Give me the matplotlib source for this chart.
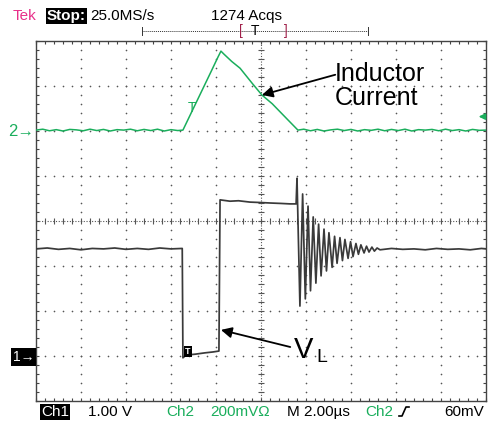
import numpy as np
import matplotlib.pyplot as plt
from matplotlib.lines import Line2D

W, H = 489, 421

# Ch1 trace (V_L) in volts, time in us
ch1_t = [0.0, 0.5, 1.0, 1.5, 2.0, 2.5, 3.0, 3.5, 4.0, 4.5, 5.0, 5.5, 6.0, 6.5,
         6.53, 6.67, 7.07, 7.51, 7.87, 8.13,
         8.18, 8.62, 9.0, 9.51, 10.0, 10.4, 10.9, 11.29, 11.56,
         11.60, 11.73, 11.85, 11.97, 12.09, 12.20, 12.32, 12.44, 12.56, 12.67,
         12.80, 12.91, 13.02, 13.16, 13.27, 13.38, 13.51, 13.62, 13.73, 13.87,
         13.98, 14.09, 14.22, 14.33, 14.44, 14.58, 14.69, 14.80, 14.93, 15.04,
         15.16, 15.29, 15.8, 16.3, 16.8, 17.3, 17.8, 18.3, 18.8, 19.3, 19.8, 20.0]
ch1_v = [2.38, 2.40, 2.37, 2.39, 2.36, 2.39, 2.38, 2.40, 2.37, 2.39, 2.37, 2.40, 2.38, 2.39,
         -0.04, 0.02, 0.04, 0.07, 0.09, 0.11,
         3.47, 3.44, 3.45, 3.42, 3.41, 3.40, 3.39, 3.38, 3.38,
         3.95, 1.11, 3.60, 1.27, 3.33, 1.45, 3.09, 1.62, 2.93, 1.78,
         2.82, 1.89, 2.74, 1.97, 2.66, 2.06, 2.63, 2.12, 2.59, 2.17,
         2.54, 2.21, 2.50, 2.26, 2.47, 2.29, 2.44, 2.31, 2.42, 2.33,
         2.40, 2.36, 2.39, 2.37, 2.38, 2.36, 2.39, 2.37, 2.38, 2.36, 2.39, 2.38]

# Ch2 trace (inductor current) in mV, time in us
ch2_t = [0.0, 0.3, 0.6, 0.9, 1.2, 1.5, 1.8, 2.1, 2.4, 2.7, 3.0, 3.3, 3.6, 3.9, 4.2,
         4.5, 4.8, 5.1, 5.4, 5.7, 6.0, 6.3,
         6.53, 7.3, 7.8, 8.09, 8.22, 8.36, 8.7, 9.07, 9.6, 10.04, 10.5, 10.84, 11.2, 11.64,
         11.9, 12.2, 12.5, 12.8, 13.1, 13.4, 13.7, 14.0, 14.3, 14.6, 14.9, 15.2, 15.5,
         15.8, 16.1, 16.4, 16.7, 17.0, 17.3, 17.6, 17.9, 18.2, 18.5, 18.8, 19.1, 19.4,
         19.7, 20.0]
ch2_mv = [0, 4, -3, 2, -4, 3, 1, -3, 4, -2, 3, -4, 2, 0, 4, -3, 3, -2, 4, -4, 2, -2,
          0, 160, 264, 325, 351, 337, 305, 275, 209, 156, 117, 82, 45, 0,
          4, -3, 3, -4, 1, 4, -2, 3, -4, 2, -1, 4, -3, 3, -2, 4, -4, 2, 0, 3, -3, 4,
          -2, 2, -4, 3, -1, 0]

ch1_scale, ch1_ground = 1.00, -3.0     # V/div, divisions from centre
ch2_scale, ch2_ground = 200.0, 2.02    # mV/div, divisions from centre
trig_level_mv = 60

header_left = ['Tek', 'Stop:', '25.0MS/s']
header_acqs = '1274 Acqs'
footer_labels = ['Ch1', '1.00 V', 'Ch2', '200mV\u03a9', 'M 2.00\u00b5s', 'Ch2', '60mV']

GREEN = '#1aae5c'
TRACE = '#3a3a3a'
GRID = '#555555'

plt.rcParams['font.family'] = ['Liberation Sans', 'DejaVu Sans']


def fx(px):
    return px / W


def fy(py):
    return 1 - py / H


fig = plt.figure(figsize=(W / 100, H / 100), dpi=100)
ax = fig.add_axes([fx(36), fy(401), 450 / W, 360 / H])
ax.set_xlim(0, 20)
ax.set_ylim(-4, 4)

# graticule
for xd in np.arange(2, 20, 2):
    if xd == 10:
        continue
    yy = np.arange(-4, 4.01, 0.2)
    ax.plot(np.full_like(yy, xd), yy, ls='none', marker='o', ms=1.2, mew=0, color=GRID)
for yd in range(-3, 4):
    if yd == 0:
        continue
    xx = np.arange(0, 20.01, 0.4)
    ax.plot(xx, np.full_like(xx, yd), ls='none', marker='o', ms=1.2, mew=0, color=GRID)
ax.axhline(0, ls=(0, (1, 1.5)), lw=0.8, color=GRID)
ax.axvline(10, ls=(0, (1, 1.5)), lw=0.8, color=GRID)
xx = np.arange(0, 20.01, 0.4)
ax.plot(xx, np.zeros_like(xx), ls='none', marker='|', ms=4, mew=0.8, color=GRID)
yy = np.arange(-4, 4.01, 0.2)
ax.plot(np.full_like(yy, 10), yy, ls='none', marker='_', ms=4, mew=0.8, color=GRID)

ax.set_xticks(np.arange(0, 20.1, 2))
ax.set_xticks(np.arange(0, 20.1, 0.4), minor=True)
ax.set_yticks(np.arange(-4, 4.1, 1))
ax.set_yticks(np.arange(-4, 4.1, 0.2), minor=True)
ax.tick_params(which='both', direction='in', length=2.5, width=0.8, color='#444',
               top=True, right=True, labelbottom=False, labelleft=False)
for s in ax.spines.values():
    s.set_color('#444')
    s.set_linewidth(1.0)

# traces
ch1_div = np.array(ch1_v) / ch1_scale + ch1_ground
ch2_div = np.array(ch2_mv) / ch2_scale + ch2_ground
ax.plot(ch2_t, ch2_div, color=GREEN, lw=1.1, zorder=5)
ax.plot(ch1_t, ch1_div, color=TRACE, lw=1.25, zorder=6)

# trigger markers
ax.text(6.95, ch2_ground + 0.5, 'T', color=GREEN, fontsize=10, ha='center', va='center', zorder=7)
ax.text(6.75, ch1_ground + 0.1, 'T', color='white', fontsize=6.5, fontweight='bold',
        ha='center', va='center', zorder=7,
        bbox=dict(boxstyle='square,pad=0.1', fc='black', ec='none'))
ax.annotate('', xy=(19.55, ch2_ground + trig_level_mv / ch2_scale),
            xytext=(20.0, ch2_ground + trig_level_mv / ch2_scale),
            arrowprops=dict(arrowstyle='-|>', color=GREEN, lw=1.2, mutation_scale=9),
            annotation_clip=False, zorder=8)

# annotations
ax.annotate('', xy=(10.04, ch2_ground + 156 / ch2_scale), xytext=(13.3, 3.25),
            arrowprops=dict(arrowstyle='-|>', color='black', lw=1.3,
                            mutation_scale=16, shrinkA=0, shrinkB=0), zorder=9)
ax.annotate('', xy=(8.22, -2.42), xytext=(11.3, -2.8),
            arrowprops=dict(arrowstyle='-|>', color='black', lw=1.3,
                            mutation_scale=16, shrinkA=0, shrinkB=0), zorder=9)
fig.text(fx(335), fy(62), 'Inductor\nCurrent', fontsize=18, va='top', ha='left',
         linespacing=0.98)
fig.text(fx(294), fy(358), 'V', fontsize=21, va='baseline', ha='left')
fig.text(fx(316), fy(362), 'L', fontsize=14, va='baseline', ha='left')

# ground markers
fig.text(fx(34), fy(132), '2\u2192', color=GREEN, fontsize=12, ha='right', va='center')
fig.text(fx(34), fy(357), '1\u2192', color='white', fontsize=10, ha='right', va='center',
         bbox=dict(boxstyle='square,pad=0.12', fc='black', ec='none'))

# header
hsize = 11
fig.text(fx(13), fy(16), header_left[0], color='#e8308a', fontsize=hsize, va='center')
fig.text(fx(47), fy(16), header_left[1], color='white', fontsize=hsize, fontweight='bold',
         va='center', bbox=dict(boxstyle='square,pad=0.08', fc='black', ec='none'))
fig.text(fx(90), fy(16), header_left[2], color='black', fontsize=hsize, va='center')
fig.text(fx(211), fy(16), header_acqs, color='black', fontsize=hsize, va='center')

fig.add_artist(Line2D([fx(142), fx(368)], [fy(31), fy(31)], ls=(0, (1, 1)), lw=0.7, color='#333'))
fig.add_artist(Line2D([fx(142), fx(142)], [fy(27), fy(35)], lw=0.7, color='#333'))
fig.add_artist(Line2D([fx(368), fx(368)], [fy(27), fy(35)], lw=0.7, color='#333'))
fig.text(fx(241), fy(31), '[', color='#a0204a', fontsize=10, ha='center', va='center')
fig.text(fx(255), fy(31), 'T', color='black', fontsize=10, ha='center', va='center')
fig.text(fx(286), fy(31), ']', color='#a0204a', fontsize=10, ha='center', va='center')

# footer
fy_txt = fy(412)
fsize = 11
fig.text(fx(41), fy_txt, footer_labels[0], color='white', fontsize=fsize, va='center',
         bbox=dict(boxstyle='square,pad=0.08', fc='black', ec='none'))
fig.text(fx(88), fy_txt, footer_labels[1], color='black', fontsize=fsize, va='center')
fig.text(fx(166), fy_txt, footer_labels[2], color=GREEN, fontsize=fsize, va='center')
fig.text(fx(210), fy_txt, footer_labels[3], color=GREEN, fontsize=fsize, va='center')
fig.text(fx(287), fy_txt, footer_labels[4], color='black', fontsize=fsize, va='center')
fig.text(fx(365), fy_txt, footer_labels[5], color=GREEN, fontsize=fsize, va='center')
fig.add_artist(Line2D([fx(399), fx(402), fx(406), fx(409)],
                      [fy(416), fy(416), fy(407), fy(407)], lw=1.2, color='black'))
fig.text(fx(444), fy_txt, footer_labels[6], color='black', fontsize=fsize, va='center')

fig.savefig('out.png', dpi=100)
